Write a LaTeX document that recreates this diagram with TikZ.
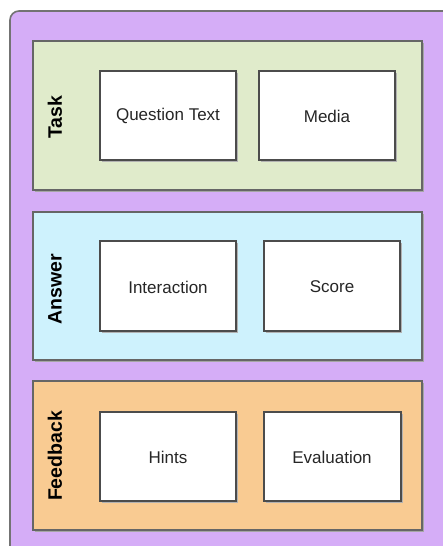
\documentclass[tikz,border=0pt]{standalone}
\usepackage{fontspec}
\setmainfont{Liberation Sans}
\begin{document}
\begin{tikzpicture}[x=1pt,y=-1pt,
  panel/.style={draw=black!60, line width=1.6pt},
  item/.style={draw=black!70, line width=1.4pt, fill=white},
  itemtext/.style={font=\fontsize{17}{20}\selectfont, text=black!85},
  lbl/.style={font=\fontsize{19.5}{22}\selectfont\bfseries, rotate=90, text=black}]
\useasboundingbox (0,0) rectangle (443,546);
\definecolor{outerc}{HTML}{D5ADF7}
\definecolor{taskc}{HTML}{E0EBCB}
\definecolor{answerc}{HTML}{CEF2FD}
\definecolor{feedc}{HTML}{F9CB92}
\begin{scope}
\clip (0,0) rectangle (443,546);
\draw[fill=outerc, draw=black!55, line width=1.6pt, rounded corners=9pt] (10,11) rectangle (470,580);
% panels
\fill[black!35] (35,43) rectangle (424,192);
\draw[panel, fill=taskc] (33,41) rectangle (422,190);
\fill[black!35] (35,214) rectangle (424,362);
\draw[panel, fill=answerc] (33,212) rectangle (422,360);
\fill[black!35] (35,383) rectangle (424,532);
\draw[panel, fill=feedc] (33,381) rectangle (422,530);
\end{scope}
\node[lbl] (task) at (55,117) {Task};
\node[lbl] (answer) at (55,289) {Answer};
\node[lbl] (feedback) at (55,456) {Feedback};
% items
\foreach \x/\y/\w/\h in {100/71/136/89, 259/71/136/89, 100/241/136/90, 264/241/136/90, 100/412/136/89, 264/412/137/89}{
  \fill[black!30] (\x+1.5,\y+1.5) rectangle (\x+\w+1.5,\y+\h+1.5);
  \draw[item] (\x,\y) rectangle (\x+\w,\y+\h);
}
\node[itemtext] (qt) at (168,116) {Question Text};
\node[itemtext] (media) at (327,116) {Media};
\node[itemtext] (inter) at (168,287) {Interaction};
\node[itemtext] (score) at (332,287) {Score};
\node[itemtext] (hints) at (168,457) {Hints};
\node[itemtext] (eval) at (332,457) {Evaluation};
\end{tikzpicture}
\end{document}
